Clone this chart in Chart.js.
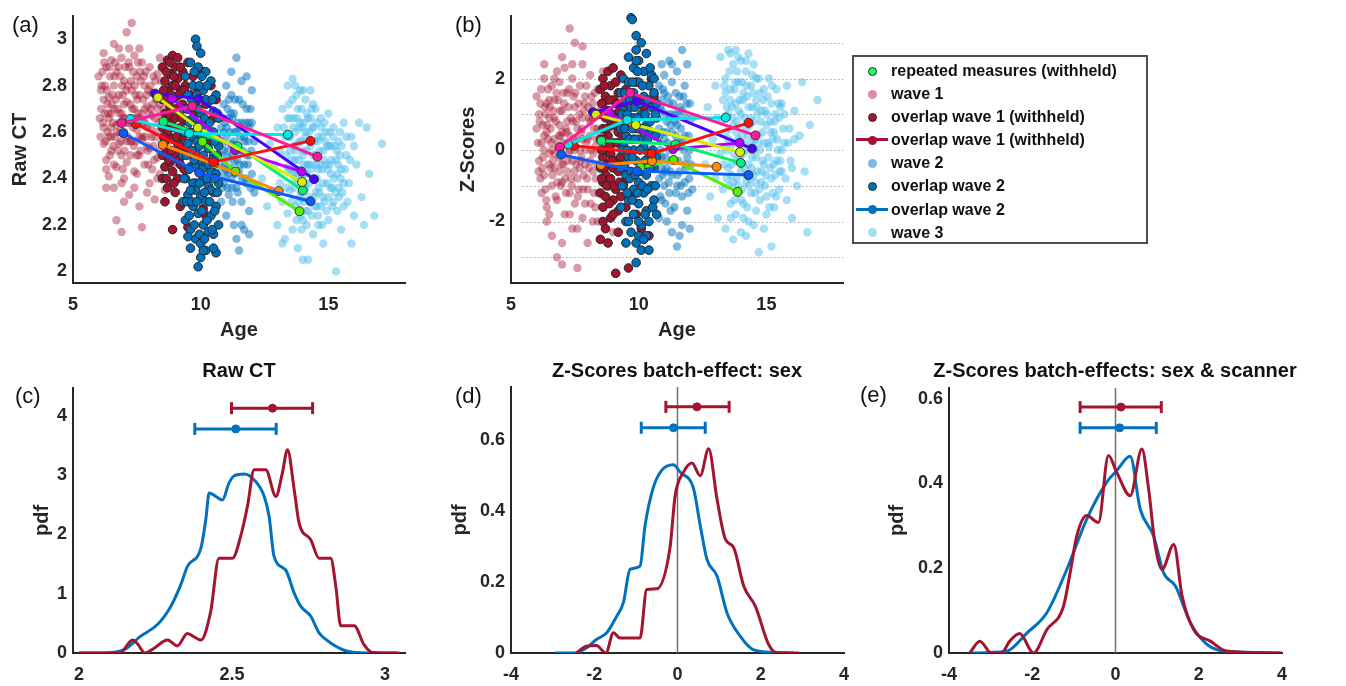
<!DOCTYPE html>
<html lang="en">
<head>
<meta charset="UTF-8">
<title>Raw CT and Z-Scores</title>
<script src="https://cdn.jsdelivr.net/npm/chart.js"></script>
<style>
    body { margin: 0; background: #fff; font-family: 'Liberation Sans', Arial, Helvetica, sans-serif; }
    .wrap { position: relative; width: 1346px; height: 686px; overflow: hidden; }
    canvas { position: absolute; }
    .lab { position: absolute; font-size: 22px; line-height: 24px; color: #111; }
    .ttl { position: absolute; width: 500px; text-align: center; font-size: 20px; font-weight: bold; line-height: 24px; color: #111; }
    .legend { position: absolute; left: 852px; top: 55px; width: 296px; height: 189px; box-sizing: border-box;
              border: 2px solid #4d4d4d; padding-top: 2px; font-size: 16px; font-weight: bold; color: #111; }
    .row { position: relative; height: 23.1px; line-height: 23px; padding-left: 37px; white-space: nowrap; }
    .mk { position: absolute; left: 18px; top: 50%; }
    .mk i { position: absolute; width: 7px; height: 7px; left: -4px; top: -4px; border-radius: 50%; border: 1px solid transparent; }
    .mk b { position: absolute; width: 32px; height: 3px; left: -16px; top: -1.5px; }
</style>
</head>
<body>
<div class="wrap">
    <canvas id="pa" width="420" height="342" style="left:0;top:0"></canvas>
    <canvas id="pb" width="420" height="342" style="left:438px;top:0"></canvas>
    <canvas id="pc" width="420" height="341" style="left:0;top:345px"></canvas>
    <canvas id="pd" width="420" height="341" style="left:438px;top:345px"></canvas>
    <canvas id="pe" width="462" height="341" style="left:876px;top:345px"></canvas>

    <div class="lab" style="left:12px;top:13px">(a)</div>
    <div class="lab" style="left:455px;top:13px">(b)</div>
    <div class="lab" style="left:15px;top:384px">(c)</div>
    <div class="lab" style="left:455px;top:384px">(d)</div>
    <div class="lab" style="left:860px;top:383px">(e)</div>

    <div class="ttl" style="left:-11px;top:358px">Raw CT</div>
    <div class="ttl" style="left:427px;top:358px">Z-Scores batch-effect: sex</div>
    <div class="ttl" style="left:865px;top:358px">Z-Scores batch-effects: sex &amp; scanner</div>

    <div class="legend">
        <div class="row"><span class="mk"><i style="background:#1aff6a;border-color:#2a2a2a"></i></span>repeated measures (withheld)</div>
        <div class="row"><span class="mk"><i style="background:#dd8c9c"></i></span>wave 1</div>
        <div class="row"><span class="mk"><i style="background:#a2142f;border-color:#2a2a2a"></i></span>overlap wave 1 (withheld)</div>
        <div class="row"><span class="mk"><b style="background:#a2142f"></b><i style="background:#a2142f"></i></span>overlap wave 1 (withheld)</div>
        <div class="row"><span class="mk"><i style="background:#80b9e2"></i></span>wave 2</div>
        <div class="row"><span class="mk"><i style="background:#0072bd;border-color:#2a2a2a"></i></span>overlap wave 2</div>
        <div class="row"><span class="mk"><b style="background:#0072bd"></b><i style="background:#0072bd"></i></span>overlap wave 2</div>
        <div class="row"><span class="mk"><i style="background:#a8dcf5"></i></span>wave 3</div>
    </div>
</div>
<script>
    // ---- panel (a): raw CT vs age ----
    const wave1A = [[6.0,2.84],[6.1,2.78],[6.1,2.70],[6.2,2.62],[6.2,2.55],[6.3,2.88],[6.3,2.48],[6.4,2.75],[6.4,2.66],[6.4,2.41],[6.5,2.91],[6.5,2.58],[6.5,2.52],[6.6,2.80],[6.6,2.70],[6.6,2.36],[6.7,2.86],[6.7,2.63],[6.7,2.45],[6.7,2.22],[6.8,2.76],[6.8,2.55],[6.9,2.92],[6.9,2.68],[6.9,2.50],[6.9,2.17],[7.0,2.82],[7.0,2.60],[7.0,2.40],[7.1,3.03],[7.1,2.73],[7.1,2.47],[7.2,2.88],[7.2,2.64],[7.2,2.33],[7.3,3.07],[7.3,2.78],[7.3,2.56],[7.4,2.93],[7.4,2.70],[7.4,2.43],[7.5,2.84],[7.5,2.61],[7.5,2.50],[7.6,2.76],[7.6,2.66],[7.6,2.28],[7.7,2.90],[7.7,2.57],[7.7,2.19],[7.8,2.80],[7.8,2.46],[7.9,2.71],[7.9,2.62],[8.0,2.88],[8.0,2.53],[8.0,2.38],[8.1,2.77],[8.1,2.67],[8.2,2.58],[8.2,2.31],[8.3,2.85],[8.3,2.49],[8.4,2.72],[8.4,2.42],[8.5,2.63],[8.6,2.80],[8.6,2.35],[8.7,2.55],[8.8,2.68],[8.9,2.46],[9.0,2.74],[9.1,2.58],[9.2,2.40],[9.3,2.66],[6.2,2.74],[6.5,2.68],[6.8,2.64],[7.0,2.72],[7.3,2.66],[7.6,2.58],[7.9,2.54],[8.2,2.66],[6.4,2.58],[7.1,2.56],[7.8,2.70],
                    [6.05,2.66],[6.15,2.86],[6.25,2.68],[6.25,2.80],[6.35,2.60],[6.35,2.72],[6.45,2.84],[6.45,2.50],[6.55,2.76],[6.55,2.64],[6.65,2.58],[6.65,2.90],[6.75,2.70],[6.75,2.52],[6.85,2.84],[6.85,2.60],[6.95,2.76],[6.95,2.44],[7.05,2.66],[7.05,2.88],[7.15,2.58],[7.15,2.80],[7.25,2.72],[7.25,2.50],[7.35,2.86],[7.35,2.62],[7.45,2.76],[7.45,2.56],[7.55,2.90],[7.55,2.68],[7.65,2.82],[7.65,2.52],[7.75,2.74],[7.75,2.64],[7.85,2.86],[7.85,2.58],[7.95,2.78],[7.95,2.46],[8.05,2.70],[8.05,2.62],[8.15,2.84],[8.15,2.54],[8.25,2.74],[8.35,2.64],[8.45,2.82],[8.45,2.56],[8.55,2.70],[8.65,2.62],[8.75,2.76],[8.85,2.58],[8.95,2.66],[9.05,2.52],[9.2,2.72],[6.3,2.36],[6.6,2.46],[7.0,2.30],[7.4,2.36],[7.9,2.34],[8.3,2.40],[6.2,2.94],[6.8,2.96],[7.6,2.96],[8.4,2.92],
                    [6.08,2.58],[6.12,2.80],[6.18,2.64],[6.22,2.90],[6.28,2.56],[6.33,2.78],[6.38,2.68],[6.42,2.88],[6.48,2.62],[6.52,2.72],[6.58,2.54],[6.62,2.84],[6.68,2.74],[6.72,2.60],[6.78,2.88],[6.82,2.68],[6.88,2.56],[6.92,2.80],[6.98,2.66],[7.02,2.52],[7.08,2.78],[7.12,2.64],[7.18,2.90],[7.22,2.56],[7.28,2.82],[7.32,2.70],[7.38,2.54],[7.42,2.80],[7.48,2.66],[7.52,2.74],[7.58,2.50],[7.62,2.86],[7.68,2.68],[7.72,2.58],[7.78,2.84],[7.82,2.64],[7.88,2.76],[7.92,2.52],[7.98,2.68],[8.02,2.80],[8.08,2.58],[8.12,2.72],[8.18,2.48],[8.22,2.82],[8.28,2.60],[8.32,2.70],[8.38,2.52],[8.42,2.76],[8.48,2.66],[6.3,2.44],[6.9,2.38],[7.5,2.42],[8.1,2.44],[7.2,2.96],[6.6,2.98]];
    const ovl1A = [[8.5,2.88],[8.5,2.74],[8.5,2.62],[8.5,2.50],[8.5,2.40],[8.6,2.82],[8.6,2.68],[8.6,2.56],[8.6,2.45],[8.6,2.30],[8.7,2.91],[8.7,2.78],[8.7,2.60],[8.7,2.52],[8.7,2.36],[8.8,2.85],[8.8,2.71],[8.8,2.64],[8.8,2.47],[8.9,2.93],[8.9,2.80],[8.9,2.57],[8.9,2.43],[8.9,2.18],[9.0,2.88],[9.0,2.75],[9.0,2.66],[9.0,2.50],[9.0,2.34],[9.1,2.92],[9.1,2.83],[9.1,2.70],[9.1,2.55],[9.1,2.40],[9.2,2.78],[9.2,2.62],[9.2,2.46],[9.2,2.28],[9.3,2.86],[9.3,2.72],[9.3,2.58],[9.4,2.80],[9.4,2.65],[9.4,2.52],[9.5,2.90],[9.5,2.70],[9.5,2.44],[9.5,2.19],[9.6,2.76],[9.6,2.60],[9.7,2.84],[9.7,2.50],[9.8,2.68],[9.8,2.38],[9.9,2.78],[10.0,2.62],[10.1,2.86],[10.1,2.27],[10.2,2.72],[10.2,2.24],[10.3,2.56],[10.4,2.80],[10.5,2.66],[10.6,2.74],
                   [8.55,2.78],[8.55,2.58],[8.65,2.86],[8.65,2.64],[8.65,2.40],[8.75,2.68],[8.75,2.48],[8.85,2.76],[8.85,2.52],[8.95,2.84],[8.95,2.62],[8.95,2.38],[9.05,2.70],[9.05,2.58],[9.15,2.76],[9.15,2.48],[9.25,2.66],[9.25,2.54],[9.35,2.78],[9.35,2.44],[8.6,2.74],[9.0,2.80],[9.2,2.88],[8.8,2.90],[9.4,2.60]];
    const ovl2A = [[9.3,2.30],[9.3,2.50],[9.3,2.70],[9.4,2.22],[9.4,2.40],[9.4,2.60],[9.4,2.84],[9.5,2.33],[9.5,2.55],[9.5,2.76],[9.6,2.18],[9.6,2.45],[9.6,2.65],[9.6,2.90],[9.7,2.28],[9.7,2.38],[9.7,2.58],[9.7,2.80],[9.8,2.14],[9.8,2.35],[9.8,2.52],[9.8,2.72],[9.8,3.00],[9.85,2.97],[9.9,2.02],[9.9,2.25],[9.9,2.44],[9.9,2.63],[9.9,2.88],[10.0,2.12],[10.0,2.32],[10.0,2.48],[10.0,2.68],[10.0,2.94],[10.1,2.20],[10.1,2.40],[10.1,2.57],[10.1,2.78],[10.2,2.09],[10.2,2.30],[10.2,2.46],[10.2,2.64],[10.2,2.86],[10.3,2.17],[10.3,2.37],[10.3,2.53],[10.3,2.73],[10.4,2.24],[10.4,2.43],[10.4,2.60],[10.4,2.82],[10.5,2.16],[10.5,2.34],[10.5,2.50],[10.5,2.69],[10.6,2.08],[10.6,2.28],[10.6,2.42],[10.6,2.58],[10.6,2.76],[10.7,2.20],[10.7,2.38],[10.7,2.54],[10.7,2.66],[9.5,2.15],[9.9,2.70],[10.1,2.50],[10.3,2.46],[9.6,2.35],[10.0,2.58],[10.4,2.35],[9.8,2.45],[10.2,2.74],[10.5,2.60],[9.7,2.66],
                   [9.35,2.40],[9.35,2.60],[9.45,2.30],[9.45,2.50],[9.45,2.70],[9.55,2.44],[9.55,2.64],[9.55,2.24],[9.65,2.52],[9.65,2.74],[9.65,2.30],[9.75,2.20],[9.75,2.48],[9.75,2.86],[9.85,2.30],[9.85,2.56],[9.85,2.76],[9.95,2.16],[9.95,2.38],[9.95,2.54],[9.95,2.80],[10.05,2.26],[10.05,2.44],[10.05,2.62],[10.05,2.84],[10.15,2.14],[10.15,2.34],[10.15,2.66],[10.25,2.22],[10.25,2.40],[10.25,2.58],[10.25,2.80],[10.35,2.30],[10.35,2.64],[10.45,2.18],[10.45,2.48],[10.45,2.74],[10.55,2.26],[10.55,2.40],[10.55,2.56],[10.65,2.34],[10.65,2.50],[10.65,2.68],[10.0,2.06],[10.1,2.09],[10.5,2.10],[9.6,2.10]];
    const wave2A = [[10.8,2.45],[10.8,2.62],[10.8,2.30],[10.9,2.72],[10.9,2.52],[10.9,2.38],[11.0,2.80],[11.0,2.58],[11.0,2.44],[11.0,2.24],[11.1,2.66],[11.1,2.49],[11.1,2.33],[11.2,2.76],[11.2,2.55],[11.2,2.40],[11.3,2.68],[11.3,2.47],[11.3,2.20],[11.4,2.92],[11.4,2.60],[11.4,2.36],[11.5,2.74],[11.5,2.52],[11.5,2.43],[11.5,2.09],[11.6,2.82],[11.6,2.64],[11.6,2.30],[11.7,2.58],[11.7,2.46],[11.7,2.18],[11.8,2.84],[11.8,2.70],[11.8,2.38],[11.9,2.62],[11.9,2.50],[11.9,2.26],[12.0,2.78],[12.0,2.42],[12.1,2.56],[12.1,2.34],[10.9,2.60],[11.3,2.56],[11.1,2.74],
                    [10.85,2.55],[10.85,2.36],[10.95,2.64],[10.95,2.46],[11.05,2.70],[11.05,2.52],[11.05,2.36],[11.15,2.60],[11.15,2.44],[11.25,2.66],[11.25,2.50],[11.25,2.30],[11.35,2.74],[11.35,2.54],[11.35,2.42],[11.45,2.64],[11.45,2.34],[11.55,2.58],[11.55,2.46],[11.65,2.72],[11.65,2.52],[11.75,2.64],[11.75,2.40],[11.85,2.56],[11.85,2.46],[11.95,2.70],[11.95,2.36],[11.2,2.86],[11.6,2.20],[11.9,2.16],[11.4,2.14],[12.0,2.64],
                    [10.82,2.50],[10.88,2.66],[10.92,2.42],[11.02,2.62],[11.08,2.42],[11.18,2.68],[11.22,2.36],[11.32,2.60],[11.42,2.48],[11.52,2.62],[11.62,2.40],[11.72,2.56],[11.82,2.50],[11.88,2.64],[11.98,2.52]];
    const wave3A = [[12.4,2.40],[12.6,2.28],[12.7,2.55],[12.8,2.35],[12.9,2.46],[13.0,2.62],[13.0,2.20],[13.1,2.52],[13.1,2.38],[13.2,2.70],[13.2,2.30],[13.3,2.58],[13.3,2.14],[13.4,2.80],[13.4,2.45],[13.4,2.25],[13.5,2.66],[13.5,2.52],[13.5,2.35],[13.6,2.83],[13.6,2.74],[13.6,2.42],[13.6,2.18],[13.7,2.60],[13.7,2.48],[13.7,2.28],[13.8,2.70],[13.8,2.55],[13.8,2.38],[13.8,2.10],[13.9,2.78],[13.9,2.64],[13.9,2.32],[14.0,2.50],[14.0,2.42],[14.0,2.22],[14.1,2.74],[14.1,2.58],[14.1,2.36],[14.2,2.66],[14.2,2.46],[14.2,2.26],[14.2,2.05],[14.3,2.78],[14.3,2.54],[14.3,2.30],[14.4,2.62],[14.4,2.40],[14.4,2.16],[14.5,2.70],[14.5,2.50],[14.5,2.34],[14.6,2.58],[14.6,2.44],[14.6,2.20],[14.7,2.66],[14.7,2.28],[14.8,2.52],[14.8,2.38],[14.8,2.12],[14.9,2.60],[14.9,2.46],[15.0,2.68],[15.0,2.32],[15.0,2.22],[15.1,2.54],[15.1,2.42],[15.2,2.62],[15.2,2.30],[15.3,2.48],[15.3,2.00],[15.4,2.56],[15.4,2.36],[15.5,2.44],[15.5,2.18],[15.6,2.64],[15.6,2.28],[15.7,2.50],[15.8,2.38],[15.9,2.58],[16.0,2.24],[16.1,2.46],[16.2,2.64],[16.3,2.32],[16.4,2.20],[16.6,2.42],[16.8,2.24],[17.1,2.55],[16.5,2.62],[15.9,2.12],[14.0,2.05],[13.2,2.12],
                    [13.25,2.62],[13.35,2.50],[13.35,2.36],[13.45,2.72],[13.45,2.58],[13.55,2.44],[13.55,2.30],[13.65,2.66],[13.65,2.54],[13.65,2.36],[13.75,2.76],[13.75,2.42],[13.75,2.22],[13.85,2.62],[13.85,2.48],[13.85,2.30],[13.95,2.70],[13.95,2.56],[13.95,2.40],[13.95,2.18],[14.05,2.64],[14.05,2.46],[14.05,2.30],[14.15,2.68],[14.15,2.52],[14.15,2.42],[14.15,2.20],[14.25,2.60],[14.25,2.38],[14.35,2.70],[14.35,2.46],[14.35,2.24],[14.45,2.56],[14.45,2.32],[14.55,2.64],[14.55,2.40],[14.55,2.28],[14.65,2.52],[14.65,2.34],[14.75,2.58],[14.75,2.44],[14.75,2.20],[14.85,2.64],[14.85,2.30],[14.95,2.54],[14.95,2.38],[15.05,2.60],[15.05,2.46],[15.15,2.36],[15.15,2.28],[15.25,2.54],[15.35,2.42],[15.35,2.26],[15.45,2.60],[15.45,2.50],[15.55,2.34],[15.65,2.44],[15.75,2.30],[15.85,2.48],[16.0,2.54],[13.7,2.80],[14.0,2.78],[14.3,2.66],
                    [13.52,2.58],[13.58,2.48],[13.62,2.62],[13.68,2.40],[13.72,2.52],[13.78,2.66],[13.82,2.44],[13.88,2.56],[13.92,2.34],[13.98,2.62],[14.02,2.52],[14.08,2.38],[14.12,2.60],[14.18,2.46],[14.22,2.32],[14.28,2.56],[14.32,2.44],[14.38,2.62],[14.42,2.50],[14.48,2.28],[14.52,2.46],[14.58,2.56],[14.62,2.36],[14.68,2.46],[14.72,2.62],[14.78,2.32],[14.82,2.48],[14.88,2.56],[14.92,2.26],[14.98,2.44],[15.02,2.54],[15.08,2.36],[15.12,2.48],[15.18,2.58],[15.22,2.40],[15.28,2.34],[15.32,2.52],[15.38,2.46],[15.42,2.32],[15.48,2.40],[15.52,2.54],[15.6,2.38],[15.7,2.58],[13.45,2.44],[13.4,2.66],[14.1,2.26],[14.6,2.24],[13.9,2.24],[14.4,2.72]];

    // ---- panel (b): z-scores vs age ----
    const wave1B = [[6.0,1.5],[6.0,0.6],[6.1,-0.3],[6.1,1.0],[6.2,-1.2],[6.2,0.2],[6.3,2.0],[6.3,-0.7],[6.4,1.3],[6.4,0.5],[6.4,-1.6],[6.5,-0.1],[6.5,0.9],[6.6,1.8],[6.6,-1.0],[6.6,-2.4],[6.7,0.3],[6.7,1.4],[6.7,-0.5],[6.8,2.2],[6.8,-1.4],[6.8,-3.0],[6.9,0.7],[6.9,-0.2],[6.9,1.9],[7.0,-0.9],[7.0,1.1],[7.0,-3.2],[7.1,0.1],[7.1,2.3],[7.1,-1.8],[7.2,0.8],[7.2,-0.6],[7.2,1.6],[7.3,3.4],[7.3,-1.2],[7.3,0.4],[7.4,2.0],[7.4,-0.3],[7.4,-2.2],[7.5,3.0],[7.5,1.2],[7.5,-1.5],[7.6,0.6],[7.6,-0.8],[7.6,-3.3],[7.7,1.8],[7.7,0.0],[7.8,2.4],[7.8,-1.9],[7.8,0.9],[7.9,-0.4],[7.9,1.5],[8.0,0.3],[8.0,-1.1],[8.0,-2.6],[8.1,2.1],[8.1,0.8],[8.2,-0.6],[8.2,1.3],[8.3,-1.6],[8.3,0.1],[8.4,1.7],[8.4,-2.0],[8.5,0.5],[8.6,-0.9],[8.6,2.2],[8.7,1.0],[8.8,-1.4],[8.9,0.2],[9.0,-2.3],[9.1,1.4],[9.2,-0.5],[6.3,0.4],[6.6,0.0],[6.9,-0.6],[7.2,0.2],[7.5,0.0],[7.8,0.3],[8.1,-0.3],[6.5,1.4],[7.0,0.5],[7.7,-0.5],
                    [6.05,0.2],[6.15,1.3],[6.15,-0.8],[6.25,0.7],[6.25,-0.2],[6.35,1.0],[6.35,-1.1],[6.45,0.3],[6.45,1.7],[6.55,-0.5],[6.55,0.6],[6.65,1.1],[6.65,-0.3],[6.75,0.8],[6.75,-1.3],[6.85,0.1],[6.85,1.4],[6.95,-1.0],[6.95,0.4],[7.05,1.6],[7.05,-0.4],[7.15,0.6],[7.15,-1.2],[7.25,1.2],[7.25,-0.1],[7.35,0.9],[7.35,-0.8],[7.45,1.5],[7.45,0.3],[7.55,-0.4],[7.55,0.8],[7.65,1.3],[7.65,-1.1],[7.75,0.5],[7.75,-0.2],[7.85,1.1],[7.85,-0.7],[7.95,0.2],[7.95,1.8],[8.05,-0.5],[8.05,0.9],[8.15,0.0],[8.15,1.5],[8.25,-1.2],[8.25,0.6],[8.35,0.3],[8.35,-0.4],[8.45,1.1],[8.55,-0.2],[8.65,0.4],[8.75,-0.6],[8.85,0.9],[8.95,-1.0],[9.05,0.6],[9.15,-0.2],[6.4,-2.0],[7.0,-2.6],[7.6,-2.2],[8.2,-2.0],[6.3,2.4],[7.0,2.6],[7.8,2.9],
                    [6.08,-0.6],[6.12,0.8],[6.18,1.7],[6.22,-0.5],[6.28,0.0],[6.33,1.2],[6.38,-1.4],[6.42,0.7],[6.48,-0.4],[6.52,1.2],[6.58,0.2],[6.62,-0.7],[6.68,0.9],[6.72,-0.1],[6.78,1.6],[6.82,-0.9],[6.88,0.4],[6.92,1.1],[6.98,-0.4],[7.02,0.2],[7.08,1.3],[7.12,-0.8],[7.18,0.5],[7.22,-0.3],[7.28,1.7],[7.32,0.0],[7.38,-1.0],[7.42,0.8],[7.48,-0.6],[7.52,1.6],[7.58,0.3],[7.62,-1.3],[7.68,1.0],[7.72,-0.3],[7.78,0.6],[7.82,-1.1],[7.88,1.3],[7.92,0.0],[7.98,-0.8],[8.02,1.2],[8.08,0.4],[8.12,-1.5],[8.18,0.9],[8.22,-0.1],[8.28,1.6],[8.32,-0.8],[8.38,0.6],[8.42,-1.2],[8.48,0.0],[6.5,-1.8],[7.3,-1.8],[7.9,-1.5],[6.7,2.0],[7.4,2.4]];
    const ovl1B = [[8.5,1.7],[8.5,1.0],[8.5,0.3],[8.5,-0.5],[8.5,-1.2],[8.5,-2.5],[8.6,2.0],[8.6,1.3],[8.6,0.6],[8.6,-0.2],[8.6,-0.9],[8.6,-1.6],[8.7,1.5],[8.7,0.9],[8.7,0.0],[8.7,-0.7],[8.7,-1.3],[8.7,-2.2],[8.8,2.2],[8.8,1.1],[8.8,0.4],[8.8,-0.4],[8.8,-1.0],[8.9,1.8],[8.9,0.7],[8.9,-0.1],[8.9,-0.8],[8.9,-1.9],[9.0,2.3],[9.0,1.4],[9.0,0.2],[9.0,-0.5],[9.0,-1.4],[9.1,1.9],[9.1,1.0],[9.1,-0.3],[9.1,-1.1],[9.1,-3.45],[9.2,1.6],[9.2,0.5],[9.2,-0.6],[9.2,-1.7],[9.3,2.1],[9.3,0.8],[9.3,-0.2],[9.3,-1.3],[9.4,1.2],[9.4,0.1],[9.4,-0.9],[9.5,1.7],[9.5,0.4],[9.5,-1.6],[9.6,0.9],[9.6,-0.6],[9.6,-3.3],[9.7,1.3],[9.7,-1.2],[9.8,0.3],[9.9,1.9],[9.9,-1.8],[10.0,0.6],[10.1,-2.2],[10.2,1.2],[10.3,-0.4],[10.4,-2.4],[10.5,2.0],[10.6,1.5],
                   [8.55,1.3],[8.55,0.0],[8.55,-0.8],[8.65,0.3],[8.65,-0.5],[8.65,1.8],[8.75,0.6],[8.75,-1.0],[8.85,1.4],[8.85,0.1],[8.85,-1.5],[8.95,1.0],[8.95,-0.3],[9.05,0.7],[9.05,-1.0],[9.15,1.3],[9.15,0.2],[9.25,-0.9],[9.25,1.1],[9.35,0.4],[9.35,-0.5],[8.6,-2.0],[9.0,-1.8],[9.2,-2.3],[8.8,-2.6]];
    const ovl2B = [[9.3,-0.5],[9.3,0.6],[9.3,1.6],[9.3,-1.6],[9.4,0.1],[9.4,1.1],[9.4,-1.0],[9.4,2.0],[9.5,-2.0],[9.5,0.4],[9.5,1.4],[9.5,-0.7],[9.6,2.6],[9.6,0.8],[9.6,-0.2],[9.6,-1.4],[9.6,1.9],[9.7,3.7],[9.75,3.65],[9.7,1.2],[9.7,-0.6],[9.7,-2.3],[9.8,2.3],[9.8,0.0],[9.8,-1.1],[9.8,1.6],[9.8,-1.8],[9.9,3.2],[9.9,0.6],[9.9,-0.3],[9.9,-2.6],[9.9,-3.15],[9.9,2.8],[10.0,1.9],[10.0,-0.9],[10.0,0.3],[10.0,-1.5],[10.0,2.5],[10.1,3.0],[10.1,1.0],[10.1,-0.4],[10.1,-2.1],[10.1,-2.8],[10.2,2.2],[10.2,0.1],[10.2,-1.2],[10.2,1.5],[10.3,2.7],[10.3,0.7],[10.3,-0.7],[10.3,-1.7],[10.4,1.8],[10.4,-0.1],[10.4,-2.0],[10.4,-2.8],[10.5,2.1],[10.5,0.5],[10.5,-1.0],[10.5,1.2],[10.6,1.6],[10.6,-0.5],[10.6,-1.4],[10.6,2.0],[10.7,0.9],[10.7,-0.2],[10.7,-1.8],[10.7,1.3],[9.5,-2.6],[10.0,-2.4],[10.3,-2.4],[9.8,0.9],[10.2,0.5],
                   [9.35,0.0],[9.35,1.0],[9.35,-1.0],[9.45,0.6],[9.45,-0.4],[9.45,1.6],[9.55,0.0],[9.55,1.0],[9.55,-1.2],[9.65,0.3],[9.65,1.4],[9.65,-0.8],[9.75,0.6],[9.75,-0.2],[9.75,1.9],[9.75,-1.4],[9.85,1.2],[9.85,0.3],[9.85,-0.7],[9.95,0.9],[9.95,-1.2],[9.95,2.2],[10.05,0.0],[10.05,1.3],[10.05,-0.6],[10.15,0.6],[10.15,-1.0],[10.15,1.8],[10.25,-0.3],[10.25,1.0],[10.25,-1.8],[10.35,0.3],[10.35,1.4],[10.35,-1.1],[10.45,0.8],[10.45,-0.5],[10.45,2.3],[10.55,0.0],[10.55,-1.6],[10.65,0.4],[10.65,1.0],[10.65,-1.0],[10.0,-2.0],[10.2,-2.5],[9.6,-2.0],[9.9,2.5]];
    const wave2B = [[10.8,1.8],[10.8,0.6],[10.8,-0.8],[10.8,-1.9],[10.9,2.4],[10.9,1.1],[10.9,-0.2],[10.9,-1.4],[11.0,1.6],[11.0,0.3],[11.0,-1.0],[11.0,2.1],[11.1,0.8],[11.1,-0.5],[11.1,-2.0],[11.2,2.5],[11.2,1.3],[11.2,0.0],[11.2,-1.2],[11.3,1.9],[11.3,0.5],[11.3,-0.7],[11.3,-2.3],[11.4,1.0],[11.4,-0.3],[11.4,-1.6],[11.5,2.2],[11.5,0.7],[11.5,-2.7],[11.5,-1.0],[11.6,1.5],[11.6,0.2],[11.6,-0.6],[11.7,2.8],[11.7,1.1],[11.7,-1.3],[11.7,-2.1],[11.8,1.8],[11.8,0.4],[11.8,-0.9],[11.9,2.4],[11.9,-0.2],[11.9,-1.7],[12.0,1.3],[12.0,0.0],[12.0,-2.2],[12.1,0.9],[12.1,-1.1],
                    [10.85,1.2],[10.85,0.0],[10.85,-1.3],[10.95,0.5],[10.95,1.7],[10.95,-0.7],[11.05,1.0],[11.05,-0.2],[11.05,-1.5],[11.15,1.5],[11.15,0.2],[11.25,0.7],[11.25,-0.6],[11.25,-1.7],[11.35,1.3],[11.35,0.0],[11.45,0.4],[11.45,-1.2],[11.45,1.6],[11.55,-0.3],[11.55,1.0],[11.65,0.6],[11.65,-1.0],[11.75,0.0],[11.75,1.5],[11.85,-0.5],[11.85,0.9],[11.95,0.4],[11.95,-1.2],[12.05,-0.4],[11.3,2.4],[11.6,-2.4],
                    [10.82,0.4],[10.88,-0.5],[10.92,1.4],[11.02,-0.6],[11.08,0.5],[11.18,-0.9],[11.22,1.0],[11.32,-0.3],[11.42,0.8],[11.52,-0.7],[11.62,1.2],[11.72,0.3],[11.82,-0.4],[11.88,1.3],[11.98,-0.8]];
    const wave3B = [[12.6,-0.4],[12.7,1.2],[12.8,-1.3],[12.9,0.3],[13.0,1.8],[13.0,-0.8],[13.1,0.9],[13.1,-1.9],[13.2,2.6],[13.2,-0.1],[13.3,1.4],[13.3,-1.1],[13.4,2.0],[13.4,0.5],[13.4,-2.2],[13.5,2.8],[13.5,1.0],[13.5,-0.5],[13.6,1.7],[13.6,0.1],[13.6,-1.5],[13.7,2.4],[13.7,0.7],[13.7,-0.9],[13.7,-2.5],[13.8,2.8],[13.8,1.3],[13.8,-0.3],[13.8,-1.8],[13.9,1.9],[13.9,0.3],[13.9,-1.2],[14.0,2.5],[14.0,1.0],[14.0,-0.6],[14.0,-2.3],[14.1,1.6],[14.1,-0.1],[14.1,-1.5],[14.2,2.2],[14.2,0.6],[14.2,-0.9],[14.3,2.7],[14.3,1.2],[14.3,-0.4],[14.3,-2.0],[14.4,1.8],[14.4,0.2],[14.4,-1.2],[14.5,2.4],[14.5,0.8],[14.5,-0.7],[14.6,1.4],[14.6,-0.2],[14.6,-1.7],[14.7,2.0],[14.7,0.4],[14.7,-2.86],[14.8,1.1],[14.8,-0.9],[14.9,1.7],[14.9,-0.4],[14.9,-2.2],[15.0,0.7],[15.0,-1.3],[15.1,2.0],[15.1,0.1],[15.2,1.3],[15.2,-0.8],[15.2,-2.7],[15.3,0.5],[15.3,-1.6],[15.4,1.7],[15.4,-0.3],[15.5,0.9],[15.5,-1.1],[15.6,1.3],[15.6,-0.6],[15.7,0.2],[15.8,1.8],[15.8,-1.4],[15.9,0.6],[16.0,-0.5],[16.1,1.1],[16.2,-1.0],[16.3,0.4],[16.4,1.9],[16.5,-0.6],[16.6,-2.3],[16.7,0.7],[17.0,1.4],[16.0,-1.9],
                    [13.25,0.8],[13.35,-0.4],[13.35,1.8],[13.45,0.0],[13.45,1.2],[13.55,-1.0],[13.55,0.6],[13.55,2.2],[13.65,-0.4],[13.65,1.2],[13.75,0.2],[13.75,1.7],[13.75,-1.4],[13.85,0.8],[13.85,-0.8],[13.85,2.2],[13.95,-0.2],[13.95,1.4],[14.05,0.4],[14.05,-1.1],[14.05,1.9],[14.15,0.9],[14.15,-0.5],[14.25,1.5],[14.25,0.0],[14.25,-1.6],[14.35,0.7],[14.35,-0.8],[14.45,1.2],[14.45,-0.2],[14.45,2.1],[14.55,0.3],[14.55,-1.2],[14.65,1.0],[14.65,-0.6],[14.75,1.6],[14.75,0.0],[14.75,-1.4],[14.85,0.5],[14.85,-0.3],[14.95,1.1],[14.95,-1.0],[15.05,0.2],[15.05,1.5],[15.15,-0.5],[15.15,0.8],[15.25,-1.2],[15.25,0.3],[15.35,1.0],[15.35,-0.7],[15.45,0.0],[15.55,-0.3],[15.55,1.2],[15.65,0.6],[15.75,-0.8],[15.85,0.2],[15.95,-0.3],[16.1,0.3],[13.6,2.7],[13.9,2.6],[14.2,2.5],[14.2,-2.4],[14.5,-2.1],
                    [13.52,0.3],[13.58,1.4],[13.62,-0.7],[13.68,0.9],[13.72,-0.1],[13.78,1.9],[13.82,0.5],[13.88,-1.0],[13.92,1.1],[13.98,0.0],[14.02,-1.4],[14.08,1.4],[14.12,0.2],[14.18,-0.7],[14.22,1.8],[14.28,0.4],[14.32,-1.0],[14.38,0.9],[14.42,-0.5],[14.48,1.6],[14.52,0.0],[14.58,-0.9],[14.62,1.2],[14.68,0.2],[14.72,-1.1],[14.78,0.8],[14.82,-0.6],[14.88,1.4],[14.92,0.2],[14.98,-0.7],[15.02,1.0],[15.08,-0.2],[15.12,-1.6],[15.18,0.5],[15.22,1.8],[15.28,-0.4],[15.32,0.8],[15.38,-1.3],[15.42,0.3],[15.48,1.3],[15.52,-0.6],[15.6,0.0],[15.7,1.0],[13.45,-0.8],[13.4,1.6],[13.6,-1.9],[14.1,-1.9],[14.6,2.0],[15.0,-1.8]];

    // repeated measures (withheld): one row per subject
    const rmColors = ['#0a5cff', '#ff1a9c', '#00e8e8', '#ff1010', '#ff8c00', '#d4f000', '#00f070', '#55f000', '#b800ff', '#4a00ff'];
    const rmAges = [[6.97, 9.94, 14.3], [6.91, 9.67, 14.57], [7.25, 9.55, 13.41], [7.46, 10.5, 14.3], [8.52, 10.52, 13.05],
                    [8.33, 9.89, 13.97], [8.54, 11.44, 14.0], [10.07, 11.36, 13.87], [8.88, 11.35, 13.95], [8.21, 9.92, 14.44]];
    const rmCT = [[2.595, 2.425, 2.302], [2.639, 2.711, 2.494], [2.656, 2.594, 2.589], [2.635, 2.47, 2.562], [2.545, 2.462, 2.346],
                  [2.749, 2.619, 2.385], [2.645, 2.539, 2.349], [2.559, 2.430, 2.259], [2.744, 2.522, 2.430], [2.766, 2.743, 2.397]];
    const rmZ = [[-0.13, -0.59, -0.70], [0.08, 1.60, 0.41], [0.16, 0.84, 0.91], [0.12, -0.10, 0.76], [-0.42, -0.31, -0.47],
                 [0.99, 0.70, -0.06], [0.26, 0.16, -0.36], [-0.49, -0.28, -1.17], [1.02, 0.03, 0.20], [1.06, 1.37, 0.04]];

    // ---- density curves (c) (d) (e): red = wave 1, blue = wave 2 ----
    const cRedX = [2.0,2.136,2.158,2.174,2.19,2.215,2.245,2.289,2.321,2.354,2.37,2.398,2.43,2.457,2.501,2.528,2.55,2.572,2.61,2.643,2.664,2.681,2.703,2.719,2.757,2.784,2.822,2.839,2.855,2.899,2.931,2.958,3.046];
    const cRedY = [0,0,0.14,0.22,0.16,0,0.08,0.22,0.12,0.33,0.29,0.22,0.70,1.60,1.60,1.97,2.47,3.09,3.09,2.64,3.03,3.43,2.75,2.19,1.91,1.60,1.60,1.12,0.46,0.46,0.14,0.01,0];
    const cBlueX = [2.0,2.07,2.147,2.20,2.256,2.30,2.332,2.354,2.398,2.414,2.425,2.447,2.468,2.49,2.507,2.539,2.572,2.605,2.621,2.637,2.675,2.703,2.724,2.757,2.784,2.822,2.877,2.94,3.04];
    const cBlueY = [0,0,0.056,0.28,0.48,0.79,1.15,1.46,1.77,2.25,2.70,2.64,2.58,2.87,2.99,3.02,2.92,2.64,2.30,1.63,1.40,1.01,0.79,0.62,0.34,0.17,0.03,0,0];
    const dRedX = [-2.43,-2.19,-1.95,-1.72,-1.54,-1.38,-0.90,-0.74,-0.50,-0.18,-0.056,0.145,0.346,0.547,0.748,0.949,1.15,1.35,1.59,1.87,2.19,2.40,2.92];
    const dRedY = [0,0.019,0.021,0,0.057,0.042,0.042,0.179,0.181,0.297,0.444,0.51,0.536,0.50,0.576,0.434,0.321,0.297,0.189,0.132,0.024,0,0];
    const dBlueX = [-2.95,-2.47,-2.19,-1.95,-1.70,-1.46,-1.30,-1.14,-0.90,-0.78,-0.58,-0.38,-0.10,0.064,0.386,0.547,0.707,0.949,1.19,1.51,1.83,2.32,2.80];
    const dBlueY = [0,0,0.014,0.038,0.057,0.104,0.142,0.236,0.245,0.359,0.467,0.515,0.531,0.51,0.463,0.359,0.264,0.217,0.113,0.047,0.009,0.002,0];
    const eRedX = [-3.5,-3.26,-2.98,-2.74,-2.54,-2.30,-1.97,-1.65,-1.25,-1.09,-0.93,-0.69,-0.41,-0.17,0.03,0.353,0.634,0.795,0.955,1.116,1.40,1.60,1.88,2.28,2.68,4.0];
    const eRedY = [0,0.028,0,0,0.028,0.046,0,0.055,0.11,0.189,0.276,0.324,0.308,0.466,0.426,0.371,0.481,0.387,0.253,0.197,0.256,0.134,0.055,0.028,0.004,0];
    const eBlueX = [-3.5,-2.62,-2.13,-1.65,-1.17,-0.69,-0.21,0.03,0.353,0.594,0.915,1.156,1.44,1.80,2.20,2.68,3.96];
    const eBlueY = [0,0.004,0.047,0.095,0.197,0.316,0.403,0.43,0.464,0.339,0.276,0.189,0.158,0.071,0.020,0.004,0];

    // mean +/- sd bars: [low, mean, high, height]
    const cErrRed = [2.498, 2.632, 2.763, 4.13];
    const cErrBlue = [2.378, 2.512, 2.644, 3.78];
    const dErrRed = [-0.28, 0.466, 1.24, 0.694];
    const dErrBlue = [-0.87, -0.096, 0.667, 0.635];
    const eErrRed = [-0.85, 0.13, 1.10, 0.58];
    const eErrBlue = [-0.85, 0.10, 0.98, 0.531];

    // axis ticks
    const ageTicks = [5, 10, 15];
    const ctTicks = [2, 2.2, 2.4, 2.6, 2.8, 3];
    const zTicks = [-3, -2, -1, 0, 1, 2, 3];
    const cXTicks = [2, 2.5, 3];
    const cYTicks = [0, 1, 2, 3, 4];
    const zxTicks = [-4, -2, 0, 2, 4];
    const pdfTicks = [0, 0.2, 0.4, 0.6];

    const RED = '#a2142f', BLUE = '#0072bd', INK = '#262626';
    const FONT = "'Liberation Sans', Arial, Helvetica, sans-serif";
    Chart.defaults.font.family = FONT;
    Chart.defaults.animation = false;
    Chart.defaults.plugins.legend.display = false;
    Chart.defaults.plugins.tooltip.enabled = false;

    function axis(isX, min, max, ticks, size, title, titlePad, fmt) {
        return {
            type: 'linear', min, max,
            grid: { display: false, drawTicks: false },
            border: { display: true, color: INK, width: 2 },
            ticks: { color: INK, font: { size: 18, weight: 'bold' }, padding: isX ? 11 : 6, autoSkip: false, maxRotation: 0,
                     callback: fmt || (v => String(+v.toFixed(2))) },
            title: { display: !!title, text: title, color: INK, font: { size: 20, weight: 'bold' },
                     padding: { top: titlePad || 0, bottom: 0 } },
            afterBuildTicks: s => { s.ticks = ticks.map(v => ({ value: v })); },
            afterFit: s => {
                if (isX) { s.height = size; s.paddingLeft = 0; s.paddingRight = 0; }
                else { s.width = size; s.paddingTop = 0; s.paddingBottom = 0; }
            }
        };
    }

    function cloud(pts, color, r, edge, order) {
        return { data: pts, backgroundColor: color, borderColor: edge ? '#262626' : 'transparent',
                 borderWidth: edge ? 1 : 0, pointRadius: r, order, clip: false };
    }

    function subjects(values) {
        return rmColors.map((c, i) => ({
            data: rmAges[i].map((a, j) => [a, values[i][j]]),
            showLine: true, borderColor: c, borderWidth: 3, backgroundColor: c,
            pointBorderColor: '#333', pointBorderWidth: 1, pointRadius: 4.5, order: 0, clip: false
        }));
    }

    function curve(xs, ys, color) {
        return { data: xs.map((x, i) => [x, ys[i]]), showLine: true, borderColor: color, borderWidth: 3,
                 pointRadius: 0, cubicInterpolationMode: 'monotone', order: 2 };
    }

    function errBar(e, color) {
        return [
            { data: [[e[0], e[3]], [e[2], e[3]]], showLine: true, borderColor: color, borderWidth: 3,
              pointStyle: 'line', pointRotation: 90, pointRadius: 6, pointBorderWidth: 3, pointBorderColor: color, order: 1, clip: false },
            { data: [[e[1], e[3]]], backgroundColor: color, borderColor: color, pointRadius: 4, order: 0, clip: false }
        ];
    }

    function zeroLine(top) {
        return { data: [[0, 0], [0, top]], showLine: true, borderColor: '#707070', borderWidth: 1.5, pointRadius: 0, order: 10 };
    }

    const dottedGrid = {
        id: 'dottedGrid',
        beforeDatasetsDraw(chart) {
            const { ctx, chartArea: a, scales: { y } } = chart;
            ctx.save();
            ctx.strokeStyle = '#a0a0a0';
            ctx.lineWidth = 1;
            ctx.setLineDash([1.5, 2.5]);
            zTicks.forEach(v => {
                const py = Math.round(y.getPixelForValue(v)) + 0.5;
                ctx.beginPath();
                ctx.moveTo(a.left + 11, py);
                ctx.lineTo(a.right, py);
                ctx.stroke();
            });
            ctx.restore();
        }
    };

    function scatterChart(id, datasets, scales, padding, plugins) {
        new Chart(document.getElementById(id), {
            type: 'scatter',
            data: { datasets },
            options: { responsive: false, maintainAspectRatio: false, devicePixelRatio: 1, layout: { padding }, scales },
            plugins: plugins || []
        });
    }

    scatterChart('pa', [
        ...subjects(rmCT),
        cloud(ovl2A, BLUE, 4.3, true, 1),
        cloud(ovl1A, RED, 4.3, true, 2),
        cloud(wave3A, 'rgba(77,190,238,0.5)', 4.2, false, 3),
        cloud(wave2A, 'rgba(0,114,189,0.5)', 4.2, false, 4),
        cloud(wave1A, 'rgba(162,20,47,0.42)', 4.2, false, 5)
    ], {
        x: axis(true, 5, 18, ageTicks, 59, 'Age'),
        y: axis(false, 1.95, 3.1, ctTicks, 73, 'Raw CT', 8)
    }, { top: 16, right: 15, left: 0, bottom: 0 });

    scatterChart('pb', [
        ...subjects(rmZ),
        cloud(ovl2B, BLUE, 4.3, true, 1),
        cloud(ovl1B, RED, 4.3, true, 2),
        cloud(wave3B, 'rgba(77,190,238,0.5)', 4.2, false, 3),
        cloud(wave2B, 'rgba(0,114,189,0.5)', 4.2, false, 4),
        cloud(wave1B, 'rgba(162,20,47,0.42)', 4.2, false, 5)
    ], {
        x: axis(true, 5, 18, ageTicks, 59, 'Age'),
        y: axis(false, -3.72, 3.75, zTicks, 73, 'Z-Scores', 18, v => (v % 2 === 0 ? String(v) : ''))
    }, { top: 16, right: 15, left: 0, bottom: 0 }, [dottedGrid]);

    scatterChart('pc', [
        curve(cRedX, cRedY, RED), curve(cBlueX, cBlueY, BLUE),
        ...errBar(cErrRed, RED), ...errBar(cErrBlue, BLUE)
    ], {
        x: axis(true, 1.98, 3.065, cXTicks, 33),
        y: axis(false, 0, 4.47, cYTicks, 73, 'pdf', 30)
    }, { top: 43, right: 15, left: 0, bottom: 0 });

    scatterChart('pd', [
        curve(dRedX, dRedY, RED), curve(dBlueX, dBlueY, BLUE),
        ...errBar(dErrRed, RED), ...errBar(dErrBlue, BLUE), zeroLine(0.75)
    ], {
        x: axis(true, -4, 4, zxTicks, 33),
        y: axis(false, 0, 0.75, pdfTicks, 73, 'pdf', 10)
    }, { top: 42, right: 14, left: 0, bottom: 0 });

    scatterChart('pe', [
        curve(eRedX, eRedY, RED), curve(eBlueX, eBlueY, BLUE),
        ...errBar(eErrRed, RED), ...errBar(eErrBlue, BLUE), zeroLine(0.625)
    ], {
        x: axis(true, -4, 4, zxTicks, 33),
        y: axis(false, 0, 0.625, pdfTicks, 73, 'pdf', 9)
    }, { top: 43, right: 56, left: 0, bottom: 0 });
</script>
</body>
</html>
